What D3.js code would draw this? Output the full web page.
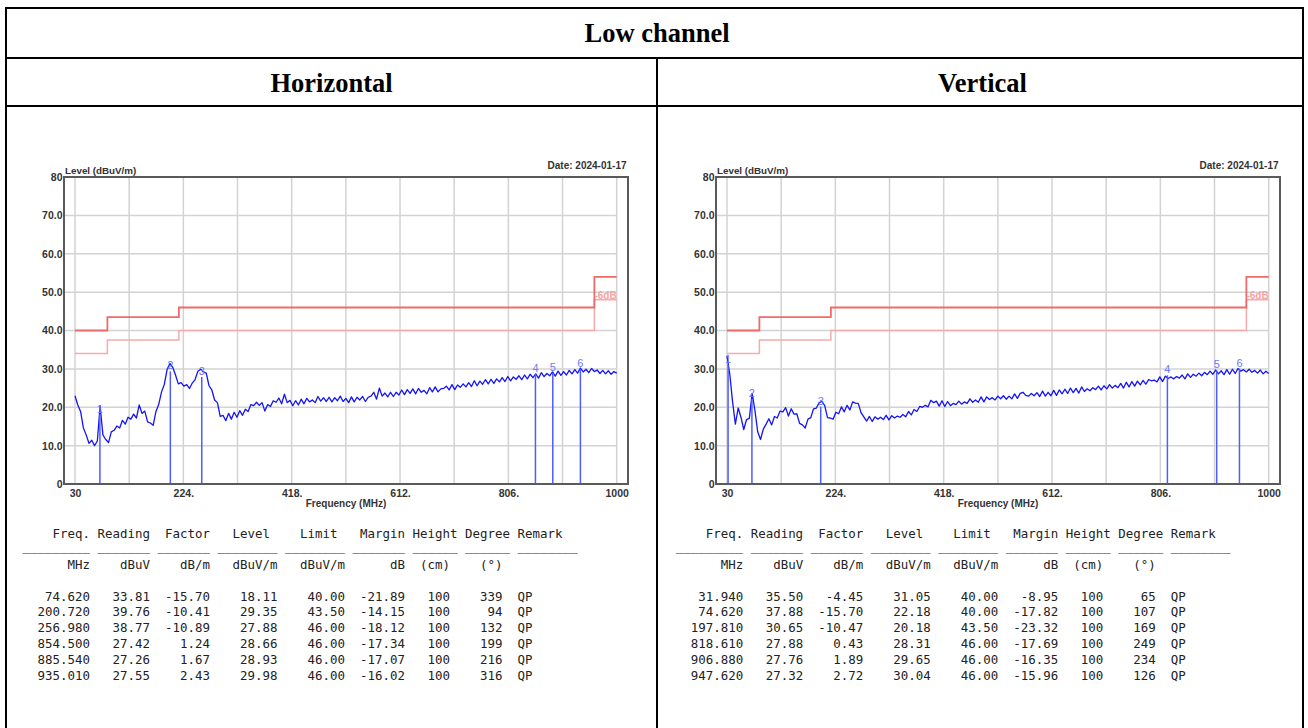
<!DOCTYPE html>
<html>
<head>
<meta charset="utf-8">
<script src="https://cdn.jsdelivr.net/npm/d3@7"></script>
<style>
  html, body { margin: 0; padding: 0; background: #fff; }
  svg { display: block; }
</style>
</head>
<body>
<svg id="page" width="1308" height="728"></svg>
<script>
// ---------------- sweep data (QP pre-scan, 30–1000 MHz) ----------------
const sweepStartMHz = 30;
const sweepStepMHz = 5;

// Horizontal polarisation, dBuV/m, one value per sweep step
const horizontalLevels = [
  23.0, 20.6, 18.9, 14.6, 12.8, 10.6, 11.4, 10.0, 11.2, 20.4,
  12.8, 11.6, 10.8, 13.6, 14.0, 15.1, 14.6, 16.6, 15.6, 17.4,
  16.9, 18.2, 17.2, 20.6, 18.4, 19.0, 16.2, 15.9, 15.3, 18.9,
  20.8, 24.0, 26.0, 29.9, 31.4, 30.4, 28.4, 26.1, 26.4, 25.5,
  25.9, 24.9, 26.3, 27.2, 29.4, 29.9, 29.2, 28.9, 25.6, 24.5,
  21.9, 21.2, 17.6, 17.9, 16.5, 18.4, 16.9, 18.7, 17.4, 19.1,
  17.9, 19.5, 18.9, 20.7, 20.4, 21.3, 20.5, 21.2, 19.0, 20.7,
  20.2, 21.7, 21.3, 22.4, 20.9, 23.4, 21.2, 21.8, 20.4, 21.7,
  20.6, 22.1, 20.9, 22.3, 21.4, 21.9, 21.2, 22.8, 21.6, 22.5,
  21.5, 22.6, 21.4, 22.5, 21.7, 22.9, 21.5, 22.3, 21.2, 22.7,
  21.4, 22.6, 21.9, 22.8, 21.5, 22.6, 22.9, 23.9, 22.1, 25.0,
  22.9, 23.7, 22.7, 23.9, 22.8, 23.9, 23.2, 24.5, 23.3, 24.6,
  23.6, 24.8, 23.5, 24.9, 23.9, 24.4, 23.5, 25.1, 24.0, 25.3,
  24.0, 24.8, 24.9, 25.5, 24.5, 25.9, 24.6, 25.8, 25.2, 26.1,
  25.3, 26.4, 25.4, 26.9, 25.6, 26.8, 26.0, 27.2, 26.1, 27.3,
  26.2, 27.4, 26.6, 27.7, 26.7, 28.0, 26.9, 27.9, 27.3, 28.2,
  27.2, 28.4, 27.4, 28.6, 27.7, 28.7, 27.6, 29.0, 28.0, 28.8,
  28.2, 29.2, 28.1, 29.4, 28.3, 29.3, 28.4, 29.6, 28.7, 29.8,
  28.9, 30.2, 29.2, 29.9, 29.0, 30.1, 29.3, 29.7, 28.8, 29.6,
  28.7, 29.5, 28.6, 29.3, 28.9
];

// Vertical polarisation, dBuV/m, one value per sweep step
const verticalLevels = [
  33.4, 28.6, 21.4, 15.6, 19.8, 17.4, 14.2, 16.8, 17.1, 23.6,
  19.2, 13.6, 11.6, 14.3, 15.6, 17.0, 15.4, 17.6, 17.2, 19.0,
  18.8, 19.9, 17.7, 19.6, 18.2, 18.3, 15.8, 15.4, 14.6, 16.9,
  17.3, 19.6, 19.8, 21.2, 21.5, 20.4, 17.3, 17.2, 16.9, 18.7,
  18.3, 20.1, 18.8, 20.5, 19.3, 21.4, 21.1, 21.0, 18.6, 17.5,
  16.4, 17.6, 16.3, 17.5, 16.9, 17.4, 16.8, 17.9, 16.7, 17.8,
  17.2, 17.7, 17.4, 18.1, 17.5, 18.9, 18.0, 19.4, 18.9, 20.2,
  20.0, 20.5, 20.1, 21.8, 21.2, 21.6, 20.3, 21.7, 20.2, 21.5,
  20.4, 21.0, 20.7, 21.6, 20.8, 21.4, 21.0, 22.2, 21.3, 21.9,
  21.3, 22.7, 21.4, 22.7, 22.0, 22.5, 21.9, 22.9, 22.2, 23.0,
  22.1, 22.9, 22.2, 23.5, 22.3, 23.6, 23.9, 23.1, 22.9, 23.6,
  23.0, 23.8, 22.8, 24.2, 22.9, 23.9, 23.0, 24.4, 23.1, 24.5,
  23.5, 24.7, 23.6, 25.0, 23.8, 24.9, 23.7, 25.3, 24.1, 24.8,
  24.3, 25.1, 24.6, 25.5, 24.5, 25.6, 24.8, 25.9, 25.0, 25.7,
  25.1, 26.2, 25.0, 26.5, 25.3, 26.7, 25.5, 26.8, 25.8, 27.0,
  26.0, 27.2, 26.9, 27.1, 26.6, 27.9, 26.7, 28.1, 27.5, 27.9,
  27.4, 28.0, 27.6, 28.4, 27.4, 28.7, 27.8, 28.6, 28.1, 28.9,
  28.2, 29.1, 28.5, 29.4, 28.6, 29.7, 28.7, 29.5, 28.5, 29.8,
  28.6, 29.9, 28.8, 30.1, 29.4, 29.8, 29.2, 29.9, 29.1, 29.6,
  28.9, 29.7, 28.7, 29.4, 28.8
];

// Class B limit (step line) and the -6 dB line under it
const limitFreqs = [30, 88, 216, 960, 1000];
const limitLevels = [40, 43.5, 46, 54, 54];
const limitMinus6Levels = [34, 37.5, 40, 48, 48];

// Axes
const yTicks = [0, 10, 20, 30, 40, 50, 60, 70, 80];
const yTickLabels = ["0", "10.0", "20.0", "30.0", "40.0", "50.0", "60.0", "70.0", "80"];
const xTicks = [30, 224, 418, 612, 806, 1000];
const xTickLabels = ["30", "224.", "418.", "612.", "806.", "1000"];
const xGridFreqs = [30, 127, 224, 321, 418, 515, 612, 709, 806, 903, 1000];

// Final QP readings, horizontal
const hFreq    = [74.620, 200.720, 256.980, 854.500, 885.540, 935.010];
const hReading = [33.81, 39.76, 38.77, 27.42, 27.26, 27.55];
const hFactor  = [-15.70, -10.41, -10.89, 1.24, 1.67, 2.43];
const hLevel   = [18.11, 29.35, 27.88, 28.66, 28.93, 29.98];
const hLimit   = [40.00, 43.50, 46.00, 46.00, 46.00, 46.00];
const hMargin  = [-21.89, -14.15, -18.12, -17.34, -17.07, -16.02];
const hHeight  = [100, 100, 100, 100, 100, 100];
const hDegree  = [339, 94, 132, 199, 216, 316];
const hRemark  = ["QP", "QP", "QP", "QP", "QP", "QP"];

// Final QP readings, vertical
const vFreq    = [31.940, 74.620, 197.810, 818.610, 906.880, 947.620];
const vReading = [35.50, 37.88, 30.65, 27.88, 27.76, 27.32];
const vFactor  = [-4.45, -15.70, -10.47, 0.43, 1.89, 2.72];
const vLevel   = [31.05, 22.18, 20.18, 28.31, 29.65, 30.04];
const vLimit   = [40.00, 40.00, 43.50, 46.00, 46.00, 46.00];
const vMargin  = [-8.95, -17.82, -23.32, -17.69, -16.35, -15.96];
const vHeight  = [100, 100, 100, 100, 100, 100];
const vDegree  = [65, 107, 169, 249, 234, 126];
const vRemark  = ["QP", "QP", "QP", "QP", "QP", "QP"];

const tableHeaders = ["Freq.", "Reading", "Factor", "Level", "Limit", "Margin", "Height", "Degree", "Remark"];
const tableUnits   = ["MHz", "dBuV", "dB/m", "dBuV/m", "dBuV/m", "dB", "(cm)", "(°)"];

const titleText = "Low channel";
const panelTitles = ["Horizontal", "Vertical"];
const dateText = "Date: 2024-01-17";

// ---------------- drawing ----------------
const svg = d3.select("#page");
svg.append("rect").attr("width", 1308).attr("height", 728).attr("fill", "#fff");

// outer table grid
const grid = svg.append("g").attr("stroke", "#000").attr("stroke-width", 2);
[[6, 8, 1303, 8], [6, 58, 1303, 58], [6, 106, 1303, 106],
 [6, 7, 6, 728], [1303, 7, 1303, 728], [657, 58, 657, 728]]
  .forEach(([x1, y1, x2, y2]) => grid.append("line")
    .attr("x1", x1).attr("y1", y1).attr("x2", x2).attr("y2", y2));

const serif = "'Liberation Serif', 'Times New Roman', serif";
svg.append("text").attr("x", 657).attr("y", 42).attr("text-anchor", "middle")
  .attr("font-family", serif).attr("font-weight", "bold").attr("font-size", 26.5)
  .attr("fill", "#000").text(titleText);
[331.5, 982.5].forEach((cx, i) => svg.append("text")
  .attr("x", cx).attr("y", 92).attr("text-anchor", "middle")
  .attr("font-family", serif).attr("font-weight", "bold").attr("font-size", 26.5)
  .attr("fill", "#000").text(panelTitles[i]));

const sans = "'Liberation Sans', Arial, sans-serif";

function drawPanel(dx, levels, mFreq, mLevel) {
  const g = svg.append("g");
  const left = 64 + dx, right = 628 + dx, top = 177, bottom = 484;
  const x = d3.scaleLinear().domain([30, 1000]).range([75 + dx, 616.7 + dx]);
  const y = d3.scaleLinear().domain([0, 80]).range([bottom, top]);

  // grid
  g.append("g").selectAll("line").data(xGridFreqs).join("line")
    .attr("x1", d => x(d)).attr("x2", d => x(d))
    .attr("y1", top).attr("y2", bottom)
    .attr("stroke", "#d3d3d3").attr("stroke-width", 1.5);
  g.append("g").selectAll("line").data(yTicks.filter(v => v > 0 && v < 80)).join("line")
    .attr("x1", left).attr("x2", x(1000))
    .attr("y1", d => y(d)).attr("y2", d => y(d))
    .attr("stroke", "#d3d3d3").attr("stroke-width", 1.5);

  // limit lines
  const step = d3.line().x(d => x(d[0])).y(d => y(d[1])).curve(d3.curveStepAfter);
  g.append("path").datum(limitFreqs.map((f, i) => [f, limitMinus6Levels[i]]))
    .attr("d", step).attr("fill", "none")
    .attr("stroke", "#f8aaaa").attr("stroke-width", 1.5);
  g.append("path").datum(limitFreqs.map((f, i) => [f, limitLevels[i]]))
    .attr("d", step).attr("fill", "none")
    .attr("stroke", "#f06a6a").attr("stroke-width", 1.8);
  g.append("text").attr("x", x(1000)).attr("y", y(limitMinus6Levels[4]) - 1)
    .attr("text-anchor", "end").attr("font-family", sans).attr("font-size", 10)
    .attr("font-weight", "bold").attr("fill", "#f7a3a3").text("-6dB");

  // sweep trace
  const trace = d3.line()
    .x((d, i) => x(sweepStartMHz + i * sweepStepMHz))
    .y(d => y(d));
  g.append("path").datum(levels).attr("d", trace).attr("fill", "none")
    .attr("stroke", "#1414f5").attr("stroke-width", 1.3).attr("stroke-linejoin", "round");

  // final-measurement markers
  const mk = g.append("g");
  mk.selectAll("line").data(mFreq).join("line")
    .attr("x1", d => x(d)).attr("x2", d => x(d))
    .attr("y1", y(0)).attr("y2", (d, i) => y(mLevel[i]))
    .attr("stroke", "#4f5dff").attr("stroke-width", 1.5);
  mk.selectAll("text").data(mFreq).join("text")
    .attr("x", d => x(d)).attr("y", (d, i) => y(mLevel[i]) - 2)
    .attr("text-anchor", "middle").attr("font-family", sans).attr("font-size", 11)
    .attr("fill", "#6b78ff").text((d, i) => i + 1);

  // plot frame
  g.append("rect").attr("x", left).attr("y", top)
    .attr("width", right - left).attr("height", bottom - top)
    .attr("fill", "none").attr("stroke", "#5a5a5a").attr("stroke-width", 2);

  // axes
  const yAxis = g.append("g").attr("transform", `translate(${left},0)`)
    .call(d3.axisLeft(y).tickValues(yTicks)
      .tickFormat((d, i) => yTickLabels[i]).tickSize(0).tickPadding(1.5));
  const xAxis = g.append("g").attr("transform", `translate(0,${bottom})`)
    .call(d3.axisBottom(x).tickValues(xTicks)
      .tickFormat((d, i) => xTickLabels[i]).tickSize(0).tickPadding(5.5));
  [yAxis, xAxis].forEach(a => {
    a.select(".domain").remove();
    a.selectAll("text").attr("font-family", sans).attr("font-size", 10.5)
      .attr("font-weight", "bold").attr("fill", "#333");
  });

  // titles
  g.append("text").attr("x", left + 1).attr("y", 174)
    .attr("font-family", sans).attr("font-size", 9.8).attr("font-weight", "bold")
    .attr("fill", "#333").text("Level (dBuV/m)");
  g.append("text").attr("x", right - 1.5).attr("y", 168.5).attr("text-anchor", "end")
    .attr("font-family", sans).attr("font-size", 10).attr("font-weight", "bold")
    .attr("fill", "#333").text(dateText);
  g.append("text").attr("x", (left + right) / 2).attr("y", 506.5).attr("text-anchor", "middle")
    .attr("font-family", sans).attr("font-size", 10).attr("font-weight", "bold")
    .attr("fill", "#333").text("Frequency (MHz)");
}

drawPanel(0, horizontalLevels, hFreq, hLevel);
drawPanel(652, verticalLevels, vFreq, vLevel);

// ---------------- result tables ----------------
const mono = "'DejaVu Sans Mono', 'Liberation Mono', monospace";
const CH = 7.5;                     // character cell width
const headerCols = [2, 8, 17, 26, 35, 43, 50, 57, 64];
const fieldEndCols = [6, 14, 22, 31, 40, 48, 54, 61];
const ruleSpans = [[-2, 6], [8, 14], [16, 22], [24, 31], [33, 40], [42, 48], [50, 55], [57, 62], [64, 71]];
const remarkCol = 64;

function drawTable(x0, cols) {
  const g = svg.append("g").attr("font-family", mono).attr("font-size", 12.45)
    .attr("fill", "#222").style("white-space", "pre");
  tableHeaders.forEach((h, i) => g.append("text")
    .attr("x", x0 + headerCols[i] * CH).attr("y", 537.5).text(h));
  ruleSpans.forEach(([a, b]) => g.append("text")
    .attr("x", x0 + a * CH).attr("y", 550.5).text("_".repeat(b - a + 1)));
  tableUnits.forEach((u, i) => g.append("text")
    .attr("x", x0 + (fieldEndCols[i] + 1) * CH).attr("y", 569)
    .attr("text-anchor", "end").text(u));
  const fmt = [d3.format(".3f"), d3.format(".2f"), d3.format(".2f"), d3.format(".2f"),
               d3.format(".2f"), d3.format(".2f"), d3.format("d"), d3.format("d")];
  cols.freq.forEach((_, r) => {
    const yy = 600.5 + r * 15.85;
    const vals = [cols.freq[r], cols.reading[r], cols.factor[r], cols.level[r],
                  cols.limit[r], cols.margin[r], cols.height[r], cols.degree[r]];
    vals.forEach((v, i) => g.append("text")
      .attr("x", x0 + (fieldEndCols[i] + 1) * CH).attr("y", yy)
      .attr("text-anchor", "end").text(fmt[i](v).replace("−", "-")));
    g.append("text").attr("x", x0 + remarkCol * CH).attr("y", yy).text(cols.remark[r]);
  });
}

drawTable(37.5, { freq: hFreq, reading: hReading, factor: hFactor, level: hLevel,
  limit: hLimit, margin: hMargin, height: hHeight, degree: hDegree, remark: hRemark });
drawTable(690.7, { freq: vFreq, reading: vReading, factor: vFactor, level: vLevel,
  limit: vLimit, margin: vMargin, height: vHeight, degree: vDegree, remark: vRemark });
</script>
</body>
</html>
